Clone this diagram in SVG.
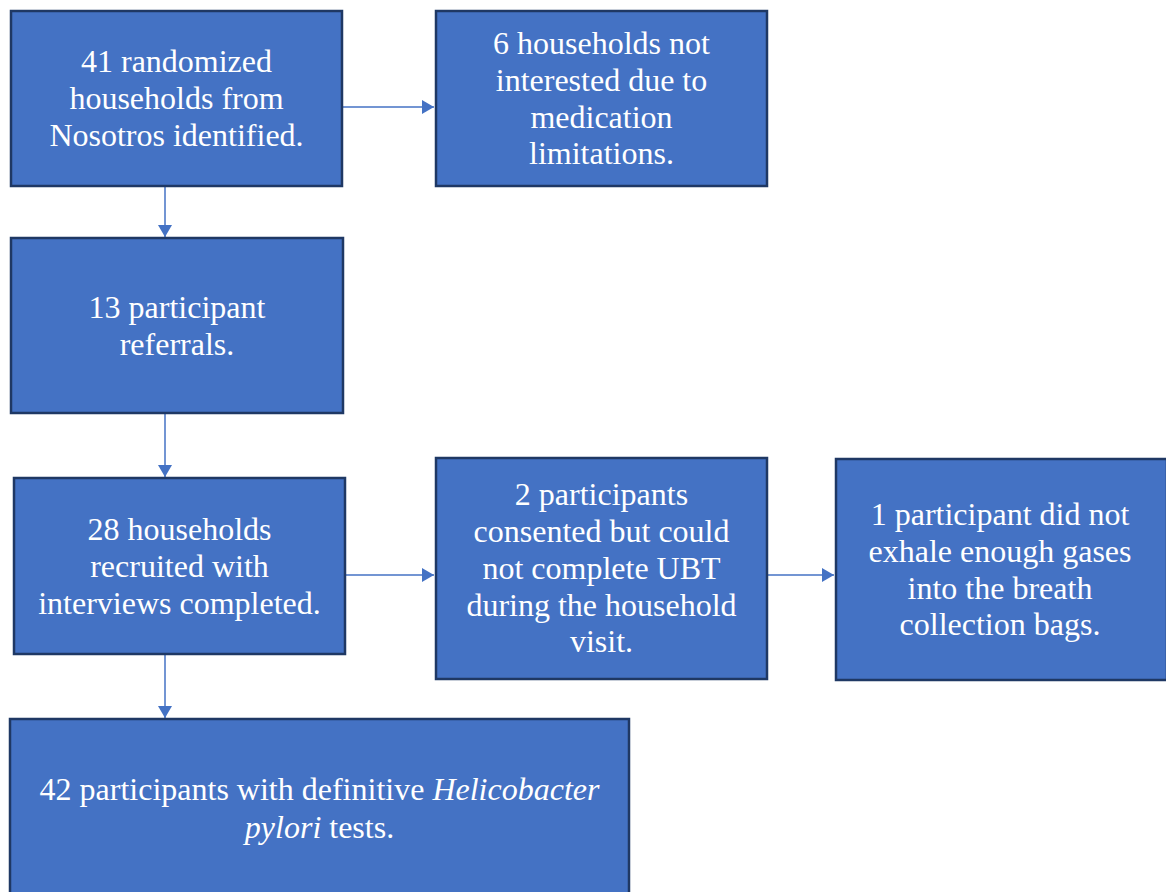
<svg xmlns="http://www.w3.org/2000/svg" width="1166" height="892" viewBox="0 0 1166 892">
<defs>
<style>
.box{fill:#4472C4;stroke:#1F3864;stroke-width:2.5}
.t{font-family:'Liberation Serif','Times New Roman',serif;font-size:32px;fill:#ffffff;text-anchor:middle}
.c{stroke:#4472C4;stroke-width:1.5;fill:none}
</style>
<marker id="ah" markerWidth="14" markerHeight="14" refX="12" refY="7" orient="auto" markerUnits="userSpaceOnUse">
<path d="M0,0 L12,7 L0,14 Z" fill="#4472C4"/>
</marker>
</defs>
<rect width="1166" height="892" fill="#ffffff"/>
<g id="connectors">
<line class="c" x1="343" y1="107" x2="434" y2="107" marker-end="url(#ah)"/>
<line class="c" x1="165" y1="187" x2="165" y2="237" marker-end="url(#ah)"/>
<line class="c" x1="165" y1="414" x2="165" y2="477" marker-end="url(#ah)"/>
<line class="c" x1="346" y1="575" x2="434" y2="575" marker-end="url(#ah)"/>
<line class="c" x1="768" y1="575" x2="834" y2="575" marker-end="url(#ah)"/>
<line class="c" x1="165" y1="655" x2="165" y2="718" marker-end="url(#ah)"/>
</g>
<g id="n1">
<rect class="box" x="11" y="11" width="331" height="175"/>
<text class="t"><tspan x="176.5" y="72">41 randomized</tspan><tspan x="176.5" y="109">households from</tspan><tspan x="176.5" y="146">Nosotros identified.</tspan></text>
</g>
<g id="n2">
<rect class="box" x="436" y="11" width="331" height="175"/>
<text class="t"><tspan x="601.5" y="54">6 households not</tspan><tspan x="601.5" y="91">interested due to</tspan><tspan x="601.5" y="128">medication</tspan><tspan x="601.5" y="164">limitations.</tspan></text>
</g>
<g id="n3">
<rect class="box" x="11" y="238" width="332" height="175"/>
<text class="t"><tspan x="177" y="318">13 participant</tspan><tspan x="177" y="355">referrals.</tspan></text>
</g>
<g id="n4">
<rect class="box" x="14" y="478" width="331" height="176"/>
<text class="t"><tspan x="179.5" y="540">28 households</tspan><tspan x="179.5" y="577">recruited with</tspan><tspan x="179.5" y="614">interviews completed.</tspan></text>
</g>
<g id="n5">
<rect class="box" x="436" y="458" width="331" height="221"/>
<text class="t"><tspan x="601.5" y="505">2 participants</tspan><tspan x="601.5" y="542">consented but could</tspan><tspan x="601.5" y="579">not complete UBT</tspan><tspan x="601.5" y="616">during the household</tspan><tspan x="601.5" y="652">visit.</tspan></text>
</g>
<g id="n6">
<rect class="box" x="836" y="459" width="331" height="221"/>
<text class="t"><tspan x="1000" y="525">1 participant did not</tspan><tspan x="1000" y="562">exhale enough gases</tspan><tspan x="1000" y="599">into the breath</tspan><tspan x="1000" y="635">collection bags.</tspan></text>
</g>
<g id="n7">
<rect class="box" x="10" y="719" width="619" height="180"/>
<text class="t"><tspan x="319.5" y="800">42 participants with definitive <tspan font-style="italic">Helicobacter</tspan></tspan><tspan x="319.5" y="838"><tspan font-style="italic">pylori</tspan> tests.</tspan></text>
</g>
</svg>
